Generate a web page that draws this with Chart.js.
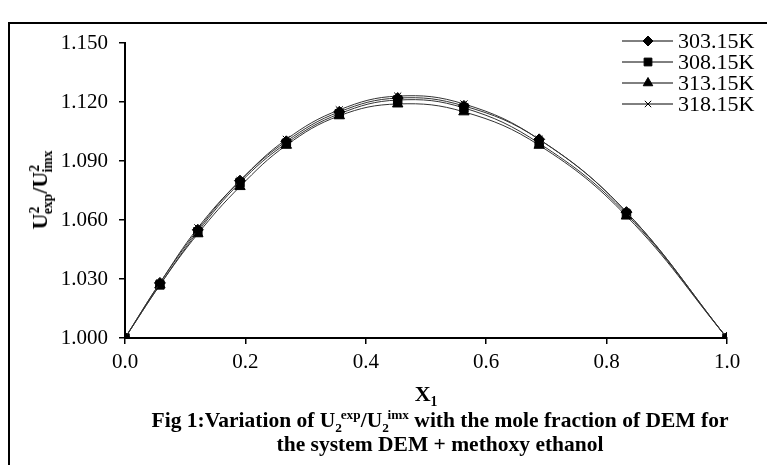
<!DOCTYPE html>
<html>
<head>
<meta charset="utf-8">
<script src="https://cdn.jsdelivr.net/npm/chart.js@4.4.1/dist/chart.umd.min.js"></script>
<style>
  body { margin: 0; background: #fff; }
  #wrap { position: relative; width: 767px; height: 465px; overflow: hidden; font-family: "Liberation Serif", "Times New Roman", serif; }
  #frame { position: absolute; left: 8px; top: 22px; width: 820px; height: 520px; border: 2px solid #000; box-sizing: border-box; }
  #chart { position: absolute; left: 0; top: 0; }
  .lbl { position: absolute; font-weight: bold; color: #000; white-space: nowrap; }
  #ytitle { left: 40px; top: 190px; font-size: 22px; transform: translate(-50%, -50%) rotate(-90deg); }
  #xtitle { left: 426px; top: 394px; font-size: 22px; transform: translate(-50%, -50%); }
  .cap { left: 440px; font-size: 21.5px; transform: translate(-50%, -50%); }
  #cap1 { top: 420px; }
  #cap2 { top: 444px; }
  sup, sub { font-size: 0.62em; line-height: 0; }
</style>
</head>
<body>
<div id="wrap">
  <div id="frame"></div>
  <canvas id="chart" width="767" height="465"></canvas>
  <div class="lbl" id="ytitle">U<sup>2</sup><sub style="margin-left:-0.55em">exp</sub>/U<sup>2</sup><sub style="margin-left:-0.55em">imx</sub></div>
  <div class="lbl" id="xtitle">X<sub>1</sub></div>
  <div class="lbl cap" id="cap1">Fig 1:Variation of U<sub>2</sub><sup style="margin-left:-0.1em">exp</sup>/U<sub>2</sub><sup style="margin-left:-0.1em">imx</sup> with the mole fraction of DEM for</div>
  <div class="lbl cap" id="cap2">the system DEM + methoxy ethanol</div>
</div>
<script>
// mole fraction of DEM
const moleFraction = [0, 0.058, 0.121, 0.191, 0.268, 0.356, 0.453, 0.563, 0.688, 0.833, 1.0];

const seriesNames = ["303.15K", "308.15K", "313.15K", "318.15K"];
const ratio303 = [1.000, 1.028, 1.055, 1.080, 1.100, 1.115, 1.122, 1.118, 1.101, 1.064, 1.000];
const ratio308 = [1.000, 1.027, 1.054, 1.079, 1.099, 1.114, 1.121, 1.117, 1.099, 1.063, 1.000];
const ratio313 = [1.000, 1.027, 1.053, 1.077, 1.098, 1.113, 1.119, 1.115, 1.098, 1.062, 1.000];
const ratio318 = [1.000, 1.028, 1.056, 1.080, 1.101, 1.116, 1.123, 1.119, 1.101, 1.064, 1.000];

const xTicks = [0, 0.2, 0.4, 0.6, 0.8, 1.0];
const yTicks = [1.000, 1.030, 1.060, 1.090, 1.120, 1.150];

const markers = ["rectRot", "rect", "triangle", "crossRot"];
const markerSize = [5.5, 6, 6, 5];

function toPoints(vals) {
  return vals.map((v, i) => ({ x: moleFraction[i], y: v }));
}

const allSeries = [ratio303, ratio308, ratio313, ratio318];

const datasets = allSeries.map((vals, i) => ({
  label: seriesNames[i],
  data: toPoints(vals),
  borderColor: "#333",
  borderWidth: 1,
  backgroundColor: "#000",
  pointBackgroundColor: "#000",
  pointBorderColor: "#000",
  pointBorderWidth: 1,
  pointStyle: markers[i],
  pointRadius: markerSize[i],
  tension: 0.4,
  fill: false,
}));

// legend drawn by hand: line through a marker, like the original
const lineLegend = {
  id: "lineLegend",
  afterDraw(chart) {
    const ctx = chart.ctx;
    ctx.save();
    ctx.font = "22px 'Liberation Serif', serif";
    ctx.textBaseline = "middle";
    seriesNames.forEach((name, i) => {
      const y = 41 + i * 21;
      ctx.strokeStyle = "#000";
      ctx.fillStyle = "#000";
      ctx.lineWidth = 1;
      ctx.beginPath();
      ctx.moveTo(622, y);
      ctx.lineTo(673, y);
      ctx.stroke();
      Chart.helpers.drawPoint(ctx, {
        pointStyle: markers[i],
        radius: markerSize[i] - 0.5,
        borderWidth: 1,
        rotation: 0,
      }, 648, y);
      ctx.fillText(name, 678, y + 1);
    });
    ctx.restore();
  },
};

new Chart(document.getElementById("chart"), {
  type: "line",
  data: { datasets },
  options: {
    responsive: false,
    animation: false,
    layout: { padding: { top: 43, right: 40, left: 0, bottom: 0 } },
    plugins: { legend: { display: false }, tooltip: { enabled: false } },
    scales: {
      x: {
        type: "linear",
        min: 0,
        max: 1,
        afterBuildTicks: (s) => { s.ticks = xTicks.map((v) => ({ value: v })); },
        afterFit: (s) => { s.height = 465 - 338; },
        ticks: {
          callback: (v) => v.toFixed(1),
          color: "#000",
          font: { family: "'Liberation Serif', serif", size: 21 },
          padding: 6,
          maxRotation: 0,
        },
        grid: { drawOnChartArea: false, drawTicks: true, tickLength: 6, color: "#000", lineWidth: 1.5 },
        border: { color: "#000", width: 2 },
      },
      y: {
        type: "linear",
        min: 1.0,
        max: 1.15,
        afterBuildTicks: (s) => { s.ticks = yTicks.map((v) => ({ value: v })); },
        afterFit: (s) => { s.width = 125; },
        ticks: {
          callback: (v) => v.toFixed(3),
          color: "#000",
          font: { family: "'Liberation Serif', serif", size: 21 },
          padding: 11,
        },
        grid: { drawOnChartArea: false, drawTicks: true, tickLength: 6, color: "#000", lineWidth: 1.5 },
        border: { color: "#000", width: 2 },
      },
    },
  },
  plugins: [lineLegend],
});
</script>
</body>
</html>
